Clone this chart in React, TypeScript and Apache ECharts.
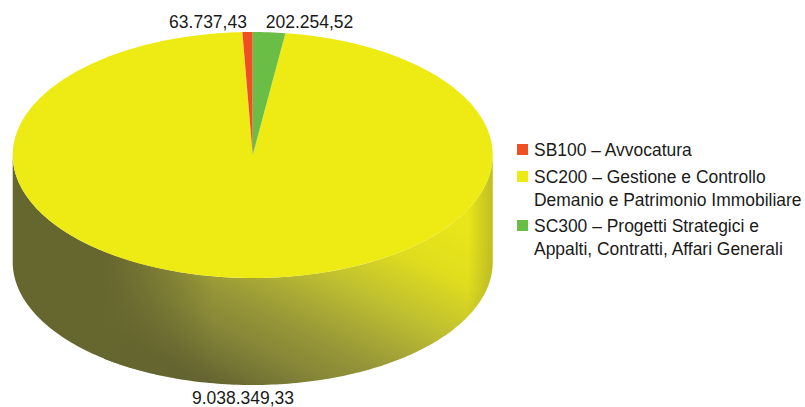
import React, { useEffect, useRef } from "react";
import * as echarts from "echarts";

const categories = ["SB100 – Avvocatura", "SC200 – Gestione e Controllo", "SC300 – Progetti Strategici e"];
const legendSecondLines = ["", "Demanio e Patrimonio Immobiliare", "Appalti, Contratti, Affari Generali"];
const values = [63737.43, 9038349.33, 202254.52];
const valueLabels = ["63.737,43", "9.038.349,33", "202.254,52"];
const colors = ["#f04e23", "#eeea14", "#6abd45"];

const FONT = '"Liberation Sans", Arial, sans-serif';
const CX = 252.7, CY = 155, RX = 240, RY = 123, DEPTH = 107;
const WALL_SPLIT = 218;
const RAD = Math.PI / 180;

// Slices run clockwise from the top: green starts at 12 o'clock, then yellow, then red closes the circle.
const total = values.reduce((a, b) => a + b, 0);
const sweep = values.map((v) => (v / total) * 360);
const spans = [
  [-sweep[0], 0],
  [sweep[2], sweep[2] + sweep[1]],
  [0, sweep[2]],
];
const labelPos: [number, number][] = [
  [208, 22],
  [243, 398],
  [309.5, 22],
];

const pt = (deg: number, dy = 0): [number, number] => [
  CX + RX * Math.sin(deg * RAD),
  CY - RY * Math.cos(deg * RAD) + dy,
];

function arcPoints(a: number, b: number, dy = 0) {
  const n = Math.max(2, Math.ceil(Math.abs(b - a)));
  const out: [number, number][] = [];
  for (let i = 0; i <= n; i++) out.push(pt(a + ((b - a) * i) / n, dy));
  return out;
}

const wallFill = new echarts.graphic.LinearGradient(
  100, 330, 212, 106,
  [
    { offset: 0, color: "#626330" },
    { offset: 0.143, color: "#7a7a36" },
    { offset: 0.232, color: "#888838" },
    { offset: 0.339, color: "#949438" },
    { offset: 0.5, color: "#aeae36" },
    { offset: 0.607, color: "#c0c030" },
    { offset: 0.821, color: "#e0dd1e" },
    { offset: 1, color: "#e8e51a" },
  ],
  true
);
const WALL_DARK = "#66672f";
const leftRamp = new echarts.graphic.LinearGradient(
  105, 0, 212, 0,
  [
    { offset: 0, color: "rgba(102,103,47,1)" },
    { offset: 1, color: "rgba(102,103,47,0)" },
  ],
  true
);
const rightRamp = new echarts.graphic.LinearGradient(
  468, 0, 493, 0,
  [
    { offset: 0, color: "rgba(130,130,50,0)" },
    { offset: 1, color: "rgba(130,130,50,0.4)" },
  ],
  true
);

function wall(a: number, b: number, fill: any) {
  return {
    type: "polygon",
    shape: { points: [...arcPoints(a, b), ...arcPoints(b, a, DEPTH)] },
    style: { fill },
  };
}

function renderSlice(index: number) {
  return () => {
    const [a, b] = spans[index];
    const children: any[] = [];
    const wa = Math.max(a, 90);
    const wb = Math.min(b, 270);
    if (wb > wa) {
      children.push(wall(wa, Math.min(wb, WALL_SPLIT + 0.2), wallFill));
      children.push(wall(116, 90, rightRamp));
      children.push(wall(189, WALL_SPLIT + 0.2, leftRamp));
      if (wb > WALL_SPLIT) children.push(wall(Math.max(wa, WALL_SPLIT), wb, WALL_DARK));
    }
    children.push({
      type: "polygon",
      shape: { points: [[CX, CY], ...arcPoints(a, b)] },
      style: { fill: colors[index] },
    });
    children.push({
      type: "text",
      x: labelPos[index][0],
      y: labelPos[index][1],
      style: {
        text: valueLabels[index],
        font: `17.5px ${FONT}`,
        fill: "#1a1a1a",
        align: "center",
        verticalAlign: "middle",
      },
    });
    return { type: "group", children };
  };
}

const legendTops = [150, 177, 226];
const LINE = 23;

function legendGraphics() {
  const els: any[] = [];
  categories.forEach((name, i) => {
    els.push({
      type: "rect",
      shape: { x: 517, y: legendTops[i] - 6, width: 11, height: 11 },
      style: { fill: colors[i] },
    });
    els.push({
      type: "text",
      x: 534,
      y: legendTops[i],
      style: { text: name, font: `17.45px ${FONT}`, fill: "#1a1a1a", verticalAlign: "middle" },
    });
    if (legendSecondLines[i]) {
      els.push({
        type: "text",
        x: 534,
        y: legendTops[i] + LINE,
        style: { text: legendSecondLines[i], font: `17.45px ${FONT}`, fill: "#1a1a1a", verticalAlign: "middle" },
      });
    }
  });
  return els;
}

export default function App() {
  const ref = useRef<HTMLDivElement>(null);
  useEffect(() => {
    document.body.style.margin = "0";
    const chart = echarts.init(ref.current!, null, { renderer: "svg" });
    chart.setOption({
      animation: false,
      backgroundColor: "#ffffff",
      graphic: { elements: legendGraphics() },
      series: categories.map((name, i) => ({
        type: "custom",
        name,
        coordinateSystem: "none",
        silent: true,
        z: i === 1 ? 1 : 2,
        data: [[values[i]]],
        renderItem: renderSlice(i),
      })),
    });
    return () => chart.dispose();
  }, []);
  return <div ref={ref} style={{ width: 805, height: 407 }} />;
}
